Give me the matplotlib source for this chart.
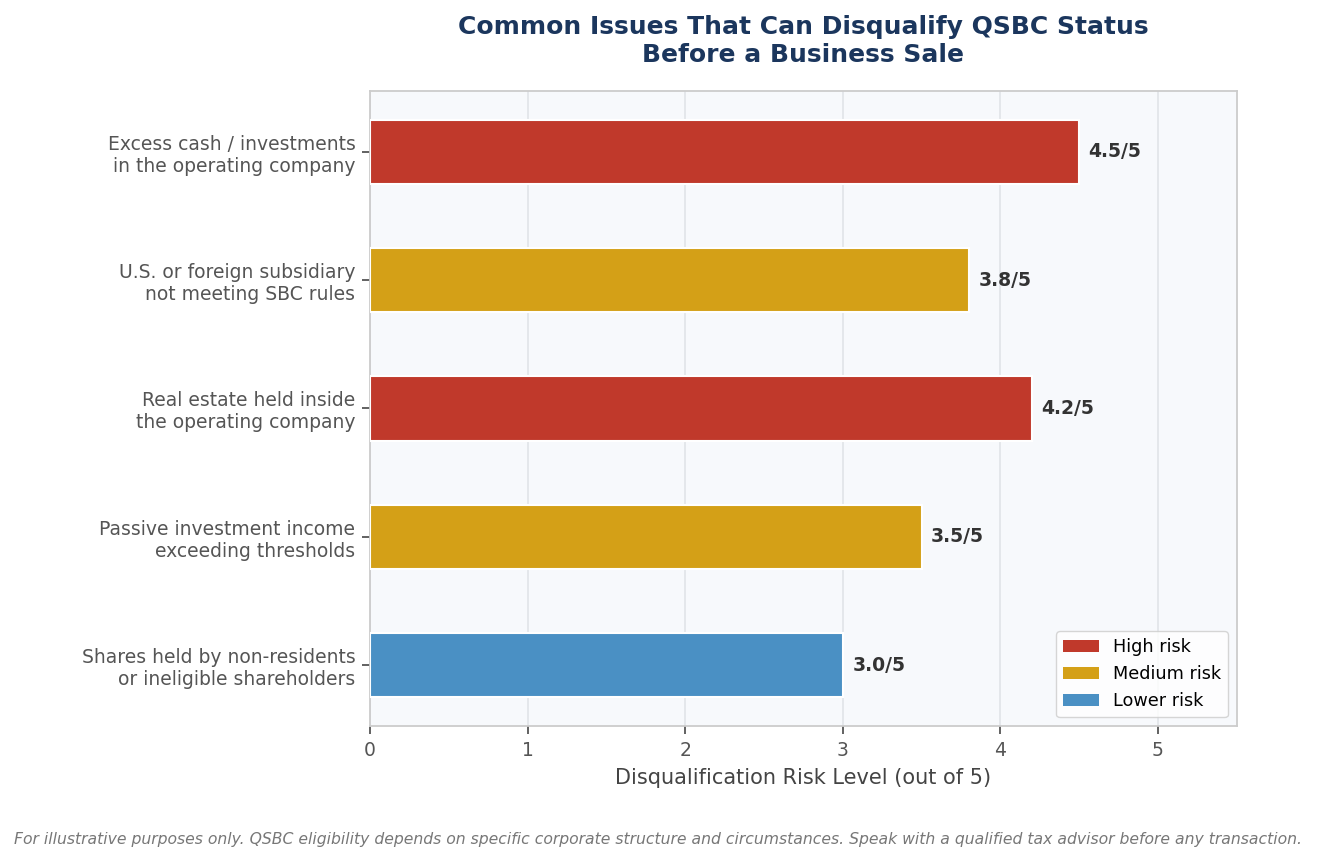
import matplotlib
matplotlib.use("Agg")
import matplotlib.pyplot as plt
from matplotlib.patches import Patch

categories = [
    "Excess cash / investments\nin the operating company",
    "U.S. or foreign subsidiary\nnot meeting SBC rules",
    "Real estate held inside\nthe operating company",
    "Passive investment income\nexceeding thresholds",
    "Shares held by non-residents\nor ineligible shareholders",
]
scores = [4.5, 3.8, 4.2, 3.5, 3.0]
risk_levels = ["High", "Medium", "High", "Medium", "Lower"]
risk_colors = {"High": "#C0392B", "Medium": "#D4A017", "Lower": "#4A90C4"}
legend_labels = ["High risk", "Medium risk", "Lower risk"]
xticks = [0, 1, 2, 3, 4, 5]

fig = plt.figure(figsize=(13.17, 8.63), dpi=100)
ax = fig.add_axes([0.281, 0.1588, 0.658, 0.7358])
ax.set_facecolor("#F7F9FC")

ypos = list(range(len(categories)))
colors = [risk_colors[r] for r in risk_levels]
bars = ax.barh(ypos, scores, height=0.5, color=colors, edgecolor="white", linewidth=1.5, zorder=3)
ax.invert_yaxis()
ax.set_yticks(ypos)
ax.set_yticklabels(categories, fontsize=13.5, color="#555555")
ax.set_xlim(0, 5.5)
ax.set_xticks(xticks)
ax.set_xticklabels([str(t) for t in xticks], fontsize=13.5, color="#555555")
ax.tick_params(axis="both", colors="#555555", length=5.5, width=1.3, pad=5)
ax.grid(axis="x", color="#E3E6EA", linewidth=1.3, zorder=0)
ax.set_axisbelow(True)
for s in ax.spines.values():
    s.set_color("#CCCCCC")
    s.set_linewidth(1.3)

for b, v in zip(bars, scores):
    ax.text(v + 0.06, b.get_y() + b.get_height() / 2, f"{v:.1f}/5",
            va="center", ha="left", fontsize=13.5, fontweight="bold", color="#333333")

ax.set_xlabel("Disqualification Risk Level (out of 5)", fontsize=15, color="#444444", labelpad=6)
ax.set_title("Common Issues That Can Disqualify QSBC Status\nBefore a Business Sale",
             fontsize=18, fontweight="bold", color="#1B365D", pad=21)

handles = [Patch(facecolor=risk_colors[k], label=l) for k, l in zip(["High", "Medium", "Lower"], legend_labels)]
leg = ax.legend(handles=handles, loc="lower right", fontsize=12.7, frameon=True, facecolor="white",
                edgecolor="#CCCCCC")

fig.text(0.5, 0.027, "For illustrative purposes only. QSBC eligibility depends on specific corporate structure and circumstances. Speak with a qualified tax advisor before any transaction.",
         ha="center", va="center", fontsize=11.25, style="italic", color="#777777")

fig.savefig("out.png", dpi=100)
